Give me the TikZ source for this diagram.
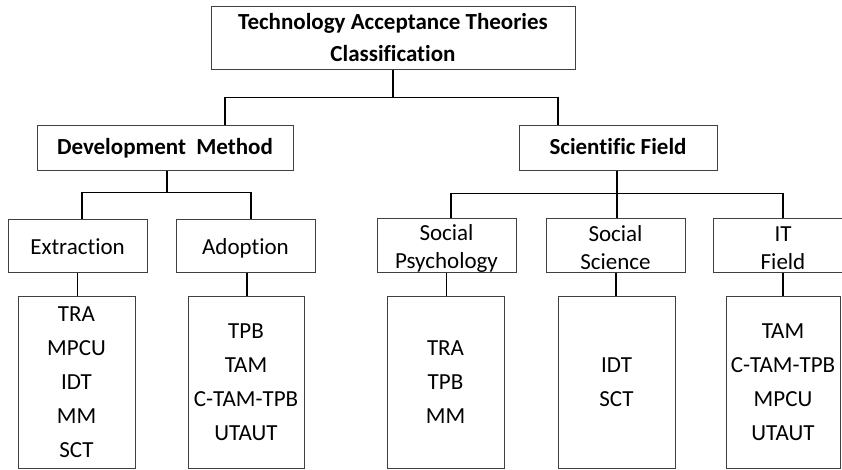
\documentclass[tikz,border=0pt]{standalone}
\usepackage{fontspec}
\setmainfont{Carlito}[Ligatures=NoCommon]
\begin{document}
\begin{tikzpicture}[x=1pt,y=-1pt,
  box/.style={draw=black!75, line width=1pt, rectangle, inner sep=0pt, align=center,
    font=\fontsize{23}{28}\selectfont},
  onebox/.style={box, minimum width=139pt, minimum height=53pt, text height=18pt, text depth=0pt},
  twobox/.style={box, minimum width=139pt, minimum height=54pt},
  twotext/.style={align=center, inner sep=0pt, font=\fontsize{23}{28}\selectfont, yshift=-3pt},
  headbox/.style={box, font=\bfseries\fontsize{23}{32}\selectfont},
  listbox/.style={box, minimum height=172pt, font=\fontsize{23}{34}\selectfont},
  conn/.style={line width=1.8pt, draw=black}]
\useasboundingbox (0,0) rectangle (842,469);
\fill[white] (0,0) rectangle (842,469);
% level 0
\node[headbox, minimum width=364pt, minimum height=63pt] (top) at (393,37.5) {Technology Acceptance Theories\\Classification};
% level 1
\node[headbox, minimum width=256pt, minimum height=45pt, text height=16.5pt, text depth=2.5pt] (dev) at (165,147.5) {Development\ \ Method};
\node[headbox, minimum width=198pt, minimum height=45pt, text height=16.5pt, text depth=2.5pt] (sci) at (618,147.5) {Scientific Field};
% level 2
\node[onebox] (ext) at (77.5,245.5) {Extraction};
\node[onebox] (ado) at (245.5,245.5) {Adoption};
\node[twobox, label={[twotext]center:Social\\Psychology}] (sp) at (446.5,245) {};
\node[twobox, label={[twotext]center:Social\\Science}] (ss) at (615.5,245) {};
\node[twobox, minimum width=140pt, label={[twotext]center:IT\\Field}] (it) at (783,245) {};
% level 3
\node[listbox, minimum width=117pt] (extl) at (76.5,382) {TRA\\MPCU\\IDT\\MM\\SCT};
\node[listbox, minimum width=116pt] (adol) at (246,382) {TPB\\TAM\\C-TAM-TPB\\UTAUT};
\node[listbox, minimum width=117pt] (spl) at (445.5,382) {TRA\\TPB\\MM};
\node[listbox, minimum width=117pt] (ssl) at (616.5,382) {IDT\\SCT};
\node[listbox, minimum width=114pt] (itl) at (783,382) {TAM\\C-TAM-TPB\\MPCU\\UTAUT};
% connectors level 0 -> 1
\draw[conn] (top.south) -- ++(0,28) coordinate (j0);
\draw[conn] ([xshift=60pt]dev.north) |- (j0) -| ([xshift=-60pt]sci.north);
% connectors dev -> ext/ado
\draw[conn] ([xshift=2pt]dev.south) -- ++(0,22) coordinate (j1);
\draw[conn] ([xshift=4.5pt]ext.north) |- (j1) -| ([xshift=5.5pt]ado.north);
% connectors sci -> sp/ss/it
\draw[conn] ([xshift=-1pt]sci.south) -- ++(0,23) coordinate (j2);
\draw[conn] ([xshift=4.5pt]sp.north) |- (j2) -| (it.north);
\draw[conn] (j2) -- (j2 |- ss.north);
% connectors level 2 -> 3
\draw[conn] (ext.south) -- (ext.south |- extl.north);
\draw[conn] ([xshift=1.5pt]ado.south) -- ([xshift=1.5pt]ado.south |- adol.north);
\draw[conn] (sp.south) -- (sp.south |- spl.north);
\draw[conn] ([xshift=0.5pt]ss.south) -- ([xshift=0.5pt]ss.south |- ssl.north);
\draw[conn] (it.south) -- (it.south |- itl.north);
\end{tikzpicture}
\end{document}
